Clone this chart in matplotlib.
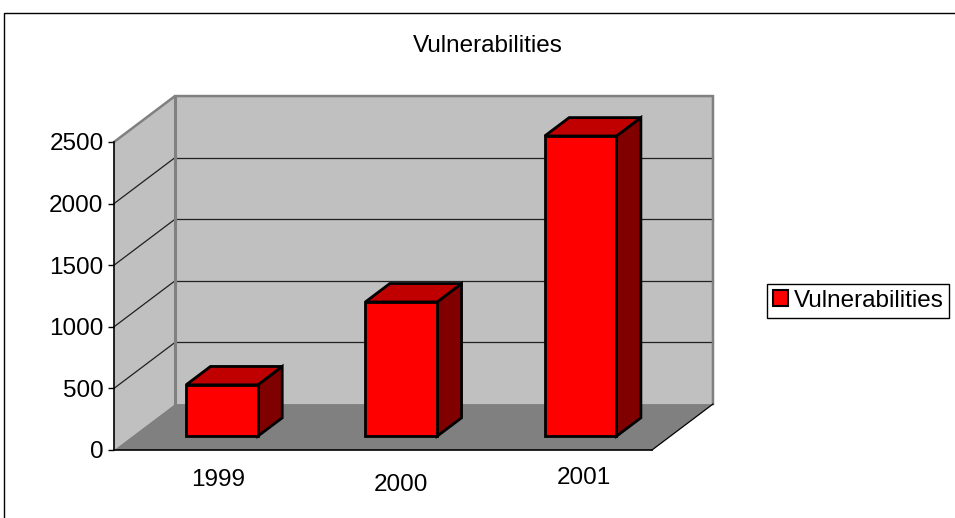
import matplotlib
matplotlib.use('Agg')
import matplotlib.pyplot as plt
from matplotlib.patches import Polygon, Rectangle

years = ['1999', '2000', '2001']
vulns = [417, 1090, 2437]
yticks = [0, 500, 1000, 1500, 2000, 2500]

plt.rcParams['font.family'] = ['Liberation Sans', 'DejaVu Sans']
FS = 17.5

fig = plt.figure(figsize=(9.55, 5.18), dpi=100)
ax = fig.add_axes([114 / 955, 68 / 518, 538 / 955, 308 / 518])
n = len(years)
ymax = yticks[-1]
ax.set_xlim(0, n)
ax.set_ylim(0, ymax)
ax.patch.set_visible(False)

# offset of the back wall from the front plane, in data units
DX, DY = 0.34, 373

WALL = '#c0c0c0'
FLOOR = '#808080'
EDGE = '#808080'


def quad(pts, fc, ec='none', lw=0, z=1):
    ax.add_patch(Polygon(pts, closed=True, fc=fc, ec=ec, lw=lw, zorder=z,
                         clip_on=False, joinstyle='miter'))


# walls and floor
quad([(0, 0), (0, ymax), (DX, ymax + DY), (DX, DY)], WALL)
quad([(DX, DY), (n + DX, DY), (n + DX, ymax + DY), (DX, ymax + DY)], WALL)
quad([(0, 0), (n, 0), (n + DX, DY), (DX, DY)], FLOOR)

# gridlines on back and side walls
for v in yticks[1:-1]:
    ax.plot([DX, n + DX], [v + DY, v + DY], color='#202020', lw=0.9, zorder=2, clip_on=False)
    ax.plot([0, DX], [v, v + DY], color='#202020', lw=0.9, zorder=2, clip_on=False)

# wall outlines
ax.plot([0, DX, n + DX, n + DX], [ymax, ymax + DY, ymax + DY, DY],
        color=EDGE, lw=1.8, zorder=2, clip_on=False, solid_joinstyle='miter')
ax.plot([DX, DX], [DY, ymax + DY], color=EDGE, lw=2.2, zorder=2, clip_on=False)
ax.plot([n, n + DX], [0, DY], color='black', lw=0.9, zorder=2, clip_on=False)

# 3d columns
w = 0.4
label_dx = [-2.5, -0.6, 2.5]
label_drop = [25.7, 29.5, 24.7]
for i, v in enumerate(vulns):
    x0 = i + 0.3 + 0.3 * DX
    y0 = 0.3 * DY
    bx, by = 0.4 * DX, 0.4 * DY
    quad([(x0 + w, y0), (x0 + w + bx, y0 + by), (x0 + w + bx, y0 + v + by), (x0 + w, y0 + v)],
         '#800000', 'black', 2.0, 3)
    quad([(x0, y0 + v), (x0 + w, y0 + v), (x0 + w + bx, y0 + v + by), (x0 + bx, y0 + v + by)],
         '#c00000', 'black', 2.0, 3)
    quad([(x0, y0), (x0 + w, y0), (x0 + w, y0 + v), (x0, y0 + v)],
         '#ff0000', 'black', 2.0, 4)
    ax.annotate(years[i], (x0 + w / 2, 0), xytext=(label_dx[i], -label_drop[i]),
                textcoords='offset points', ha='center', va='baseline', fontsize=FS)

# axes
for s in ['top', 'right']:
    ax.spines[s].set_visible(False)
ax.spines['left'].set_linewidth(1.2)
ax.spines['bottom'].set_linewidth(1.2)
ax.spines['left'].set_zorder(5)
ax.spines['bottom'].set_zorder(5)
ax.set_xticks([])
ax.set_yticks(yticks)
ax.tick_params(axis='y', length=4.5, width=1.0, pad=3, labelsize=FS)

fig.text(487.5 / 955, 1 - 52 / 518, 'Vulnerabilities', ha='center', va='baseline', fontsize=FS)

# legend
handle = Rectangle((0, 0), 1, 1, fc='#ff0000', ec='black', lw=1.5)
fig.legend([handle], ['Vulnerabilities'], loc='center left',
           bbox_to_anchor=(767 / 955, 1 - 300.8 / 518), fontsize=FS,
           frameon=True, fancybox=False, edgecolor='black', framealpha=1,
           borderpad=0.25, handlelength=0.62, handleheight=0.66,
           handletextpad=0.22, borderaxespad=0)

# outer chart border
fig.add_artist(Rectangle((4 / 955, -0.1), 1.2, 0.1 + 1 - 13 / 518, transform=fig.transFigure,
                         fill=False, ec='black', lw=1.0))

fig.savefig('out.png', dpi=100)
